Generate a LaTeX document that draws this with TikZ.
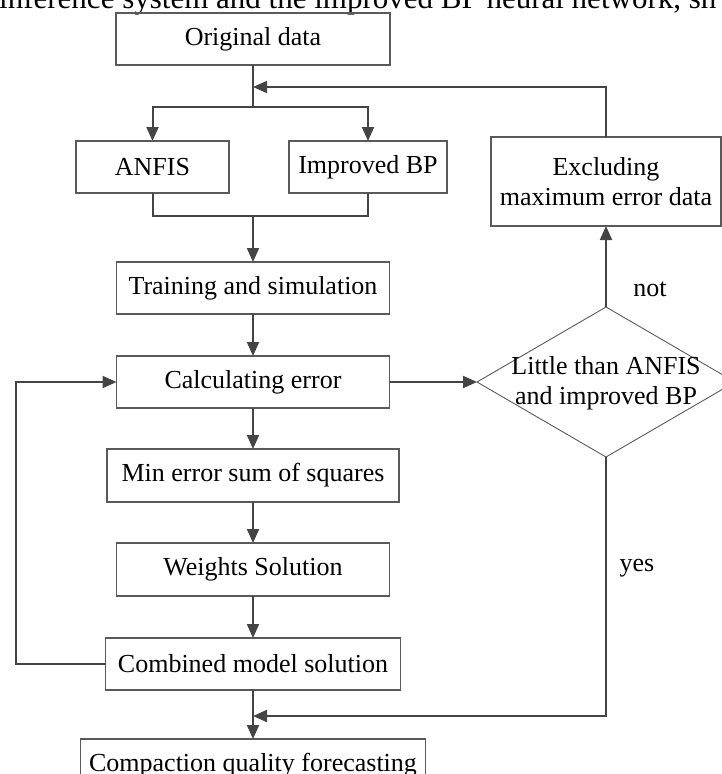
\documentclass[tikz,border=0pt]{standalone}
\usepackage{fontspec}
\setmainfont{Liberation Serif}
\usetikzlibrary{arrows.meta,shapes.geometric}

\definecolor{linecol}{HTML}{444444}
\definecolor{boxcol}{HTML}{5A5A5A}

\tikzset{
  stepbox/.style={draw=boxcol, line width=1.2pt, rectangle, inner sep=0pt, outer sep=0pt,
    align=center, font=\fontsize{26}{30}\selectfont},
  decbox/.style={draw=boxcol, line width=0.9pt, diamond, inner sep=0pt, outer sep=0pt,
    minimum width=258pt, minimum height=150pt, aspect=1.72},
  conn/.style={draw=linecol, line width=2pt},
  arr/.style={conn, -{Triangle[length=14pt,width=12pt]}},
  lbl/.style={font=\fontsize{26}{30}\selectfont, inner sep=0pt},
}

\begin{document}
\begin{tikzpicture}[x=1pt, y=-1pt]
\useasboundingbox (0,0) rectangle (722,774);
\clip (0,0) rectangle (722,774);

% running caption line above the chart
\node[anchor=base west, inner sep=0pt, font=\fontsize{31}{36}\selectfont] (cap) at (-1,8)
  {inference system and the improved BP neural network, sh};

% process boxes (main column centred on x = 253)
\node[stepbox, minimum width=274pt, minimum height=52pt] (orig)    at (253,39)    {Original data};
\node[stepbox, minimum width=153pt, minimum height=52pt] (anfis)   at (152.5,167) {ANFIS};
\node[stepbox, minimum width=158pt, minimum height=52pt] (ibp)     at (368,167)   {Improved BP};
\node[stepbox, minimum width=273pt, minimum height=52pt] (train)   at (253,288)   {Training and simulation};
\node[stepbox, minimum width=273pt, minimum height=52pt] (calc)    at (253,382)   {Calculating error};
\node[stepbox, minimum width=292pt, minimum height=53pt] (minerr)  at (253,475.5) {Min error sum of squares};
\node[stepbox, minimum width=273pt, minimum height=53pt] (weights) at (253,569.5) {Weights Solution};
\node[stepbox, minimum width=295pt, minimum height=52pt] (comb)    at (253,664)   {Combined model solution};
\node[stepbox, minimum width=345pt, minimum height=52pt] (comp)    at (253,765)   {Compaction quality forecasting};
\node[stepbox, minimum width=230pt, minimum height=89pt] (excl)    at (606,181.5) {Excluding\\maximum error data};

% decision
\node[decbox] (dec) at (606,382) {};
\node[lbl, align=center] (dectext) at (606,383) {Little than ANFIS\\and improved BP};

% junction points
\coordinate (split) at (253,107);
\coordinate (back)  at (253,87);
\coordinate (merge) at (253,216);
\coordinate (join)  at (253,716);
\coordinate (loopx) at (16,664);

% split into the two models
\draw[conn] (orig.south) -- (split);
\draw[arr] (split) -| (anfis.north);
\draw[arr] (split) -| (ibp.north);

% merge of the two models
\draw[conn] (anfis.south) -- (anfis.south |- merge) -- (ibp.south |- merge) -- (ibp.south);
\draw[arr] (merge) -- (train.north);

% main chain
\draw[arr] (train.south) -- (calc.north);
\draw[arr] (calc.south) -- (minerr.north);
\draw[arr] (minerr.south) -- (weights.north);
\draw[arr] (weights.south) -- (comb.north);
\draw[arr] (comb.south) -- (comp.north);

% decision branches
\draw[arr] (calc.east) -- (dec.west);
\draw[arr] (dec.north) -- (excl.south);
\draw[arr] (excl.north) |- (back);
\draw[arr] (dec.south) |- (join);

% iteration loop
\draw[arr] (comb.west) -- (loopx) |- (calc.west);

% branch labels
\node[lbl] (notlbl) at (650,289) {not};
\node[lbl] (yeslbl) at (637,568) {yes};
\end{tikzpicture}
\end{document}
